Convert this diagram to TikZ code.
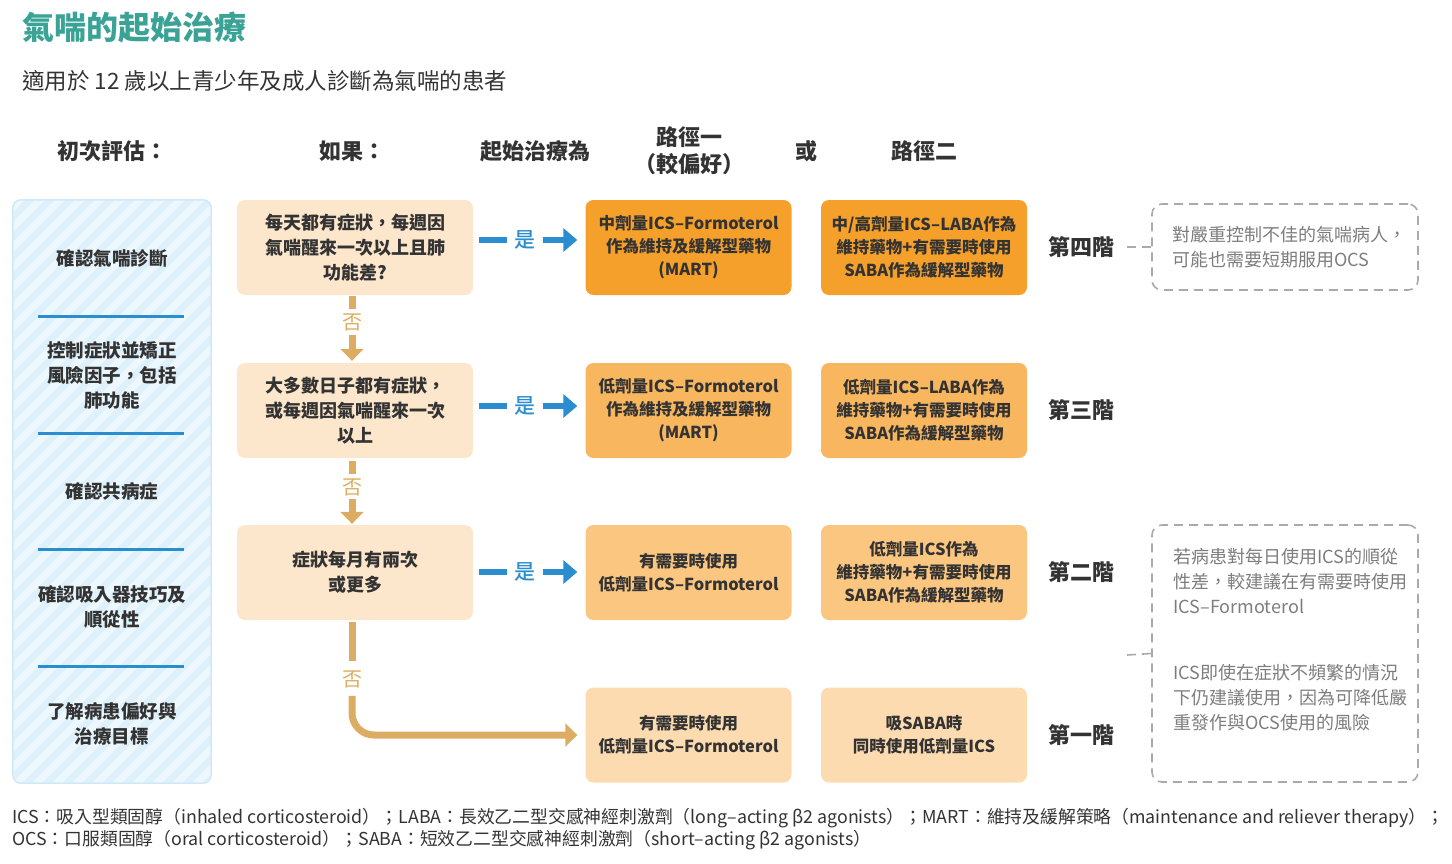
\documentclass[tikz,border=0pt]{standalone}
\usepackage{fontspec}
\setmainfont{Noto Sans CJK TC}
\IfFontExistsTF{Noto Sans CJK TC Medium}{\newfontfamily\boxfont{Noto Sans CJK TC Medium}}{\let\boxfont\bfseries}
\definecolor{asthmateal}{RGB}{58, 163, 150}
\definecolor{yesblue}{RGB}{41, 141, 207}
\definecolor{nogold}{RGB}{219, 172, 97}
\definecolor{condfill}{RGB}{253, 231, 204}
\definecolor{stepfour}{RGB}{245, 160, 42}
\definecolor{stepthree}{RGB}{248, 182, 95}
\definecolor{steptwo}{RGB}{251, 198, 128}
\definecolor{stepone}{RGB}{253, 219, 177}
\definecolor{panelblue}{RGB}{222, 241, 251}
\definecolor{panelstripe}{RGB}{237, 248, 254}
\definecolor{panelborder}{RGB}{208, 233, 248}
\definecolor{notegray}{RGB}{170, 170, 170}
\definecolor{notetext}{RGB}{125, 125, 125}
\definecolor{darktext}{RGB}{51, 51, 51}
\usepackage{tikz}
\usetikzlibrary{positioning, arrows.meta}

\begin{document}
\begin{tikzpicture}[
        x=1pt, y=-1pt,
        cond/.style={rounded corners=8pt, fill=condfill, minimum width=236pt, minimum height=95pt, align=center, font=\bfseries\fontsize{18}{25}\selectfont, text=darktext},
        treat/.style={rounded corners=8pt, minimum width=206pt, minimum height=95pt, align=center, font=\bfseries\fontsize{16.5}{23}\selectfont, text=darktext},
        header/.style={font=\bfseries\fontsize{22}{27}\selectfont, text=darktext, align=center},
        item/.style={font=\bfseries\fontsize{18.5}{25}\selectfont, text=darktext, align=center},
        steplabel/.style={font=\bfseries\fontsize{22}{26}\selectfont, text=darktext},
        notebox/.style={draw=notegray, line width=1.6pt, dash pattern=on 9pt off 6pt, rounded corners=10pt, minimum width=266pt},
        notetxt/.style={font=\fontsize{18}{25}\selectfont, text=notetext, align=left},
        yes/.style={font=\boxfont\fontsize{21}{21}\selectfont, text=yesblue, inner sep=0pt},
        no/.style={font=\fontsize{20}{20}\selectfont, text=nogold, inner sep=0pt},
        yesline/.style={line width=6pt, draw=yesblue},
        yesarrow/.style={yesline, -{Triangle[length=14pt, width=23pt]}},
        noline/.style={line width=7pt, draw=nogold},
        noarrow/.style={noline, -{Triangle[length=12pt, width=23pt]}},
        sep/.style={draw=yesblue, line width=3pt},
        link/.style={draw=notegray, line width=1.6pt, dash pattern=on 9pt off 6pt}
      ]
        \useasboundingbox (0,0) rectangle (1452,863);
        \node[anchor=west, inner sep=0pt, font=\bfseries\fontsize{32}{32}\selectfont, text=asthmateal] (title) at (22,27) {氣喘的起始治療};
        \node[anchor=west, inner sep=0pt, font=\fontsize{22.5}{22.5}\selectfont, text=darktext] (subtitle) at (22,81) {適用於 12 歲以上青少年及成人診斷為氣喘的患者};

        \node[header] (hassess) at (112,151) {初次評估：};
        \node[header] (hif)     at (352,151) {如果：};
        \node[header] (hstart)  at (535,151) {起始治療為};
        \node[header] (hpath1)  at (689,151) {路徑一\\（較偏好）};
        \node[header] (hor)     at (806,151) {或};
        \node[header] (hpath2)  at (924,151) {路徑二};

        % initial assessment panel
        \node[fill=panelblue, rounded corners=8pt, minimum width=198pt, minimum height=583pt] (panel) at (112,491.5) {};
        \begin{scope}
          \clip[rounded corners=8pt] (panel.north west) rectangle (panel.south east);
          \foreach \k in {0,...,42} \draw[panelstripe, line width=7pt] ({\k*20-620},800) -- ++(640,-640);
        \end{scope}
        \draw[panelborder, line width=1.5pt, rounded corners=8pt] (panel.north west) rectangle (panel.south east);
        \node[item] (assess1) at (112,258)   {確認氣喘診斷};
        \node[item] (assess2) at (112,375)   {控制症狀並矯正\\風險因子，包括\\肺功能};
        \node[item] (assess3) at (112,491)   {確認共病症};
        \node[item] (assess4) at (112,606.5) {確認吸入器技巧及\\順從性};
        \node[item] (assess5) at (112,723.5) {了解病患偏好與\\治療目標};
        \foreach \y in {316,433,549,666} \draw[sep] (38,\y) -- (184,\y);

        \node[cond] (cond4) at (355,247.5) {每天都有症狀，每週因\\氣喘醒來一次以上且肺\\功能差?};
        \node[cond] (cond3) at (355,410.5) {大多數日子都有症狀，\\或每週因氣喘醒來一次\\以上};
        \node[cond] (cond2) at (355,572.5) {症狀每月有兩次\\或更多};

        \node[treat, fill=stepfour]  (mart4) at (688.5,247.5) {中劑量ICS–Formoterol\\作為維持及緩解型藥物\\(MART)};
        \node[treat, fill=stepfour]  (laba4) at (924,247.5)   {中/高劑量ICS–LABA作為\\維持藥物+有需要時使用\\SABA作為緩解型藥物};
        \node[treat, fill=stepthree] (mart3) at (688.5,410.5) {低劑量ICS–Formoterol\\作為維持及緩解型藥物\\(MART)};
        \node[treat, fill=stepthree] (laba3) at (924,410.5)   {低劑量ICS–LABA作為\\維持藥物+有需要時使用\\SABA作為緩解型藥物};
        \node[treat, fill=steptwo]   (prn2)  at (688.5,572.5) {有需要時使用\\低劑量ICS–Formoterol};
        \node[treat, fill=steptwo]   (ics2)  at (924,572.5)   {低劑量ICS作為\\維持藥物+有需要時使用\\SABA作為緩解型藥物};
        \node[treat, fill=stepone]   (prn1)  at (688.5,735)   {有需要時使用\\低劑量ICS–Formoterol};
        \node[treat, fill=stepone]   (ics1)  at (924,735)     {吸SABA時\\同時使用低劑量ICS};

        \node[steplabel] (step4) at (1081,247) {第四階};
        \node[steplabel] (step3) at (1081,410) {第三階};
        \node[steplabel] (step2) at (1081,572) {第二階};
        \node[steplabel] (step1) at (1081,735) {第一階};

        % yes arrows
        \node[yes] (yes4) at (525,240) {是};
        \node[yes] (yes3) at (525,406) {是};
        \node[yes] (yes2) at (525,572) {是};
        \draw[yesline, shorten <=6pt, shorten >=7pt] (cond4.east |- yes4) -- (yes4.west);
        \draw[yesarrow, shorten <=7pt, shorten >=8pt] (yes4.east) -- (yes4 -| mart4.west);
        \draw[yesline, shorten <=6pt, shorten >=7pt] (cond3.east |- yes3) -- (yes3.west);
        \draw[yesarrow, shorten <=7pt, shorten >=8pt] (yes3.east) -- (yes3 -| mart3.west);
        \draw[yesline, shorten <=6pt, shorten >=7pt] (cond2.east |- yes2) -- (yes2.west);
        \draw[yesarrow, shorten <=7pt, shorten >=8pt] (yes2.east) -- (yes2 -| prn2.west);

        % no arrows
        \node[no] (no4) at (352,322) {否};
        \node[no] (no3) at (352,487) {否};
        \node[no] (no2) at (352,679) {否};
        \draw[noline, shorten <=1pt, shorten >=4pt] (cond4.south -| no4) -- (no4.north);
        \draw[noarrow, shorten <=4pt, shorten >=2pt] (no4.south) -- (cond3.north -| no4);
        \draw[noline, shorten <=3pt, shorten >=4pt] (cond3.south -| no3) -- (no3.north);
        \draw[noarrow, shorten <=3pt, shorten >=1pt] (no3.south) -- (cond2.north -| no3);
        \draw[noline, shorten <=2pt, shorten >=9pt] (cond2.south -| no2) -- (no2.north);
        \draw[noarrow, rounded corners=22pt, shorten <=8pt, shorten >=8pt] (no2.south) |- (prn1.west);

        % notes
        \node[notebox, minimum height=86pt, inner xsep=20pt, text width=226pt, notetxt] (note4) at (1285,247) {對嚴重控制不佳的氣喘病人，\\可能也需要短期服用OCS};
        \node[notebox, minimum height=257pt] (note21) at (1285,653.5) {};
        \node[notetxt, anchor=north west, inner sep=0pt] (note21text) at (1173,548) {若病患對每日使用ICS的順從\\性差，較建議在有需要時使用\\ICS–Formoterol\\[41pt]ICS即使在症狀不頻繁的情況\\下仍建議使用，因為可降低嚴\\重發作與OCS使用的風險};
        \coordinate (split) at (1127,655);
        \draw[link, shorten <=9pt] (step4.east) -- (note4.west);
        \draw[link] (split) -- (note21.west);

        \node[anchor=north west, inner sep=0pt, align=left, font=\fontsize{17.8}{22}\selectfont, text=darktext] (legend) at (12,808) {ICS：吸入型類固醇（inhaled corticosteroid）；LABA：長效乙二型交感神經刺激劑（long–acting β2 agonists）；MART：維持及緩解策略（maintenance and reliever therapy）；\\OCS：口服類固醇（oral corticosteroid）；SABA：短效乙二型交感神經刺激劑（short–acting β2 agonists）};
      \end{tikzpicture}
\end{document}
